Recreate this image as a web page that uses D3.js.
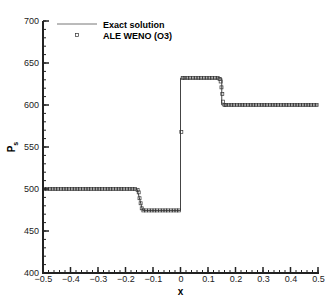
<!DOCTYPE html>
<html>
<head>
<meta charset="utf-8">
<script src="https://cdn.jsdelivr.net/npm/d3@7"></script>
<style>
  body { margin: 0; background: #fff; }
  text { font-family: "Liberation Sans", Arial, sans-serif; }
</style>
</head>
<body>
<div id="vis"></div>
<script>
// exact solution (piecewise)
var exactX = [-0.5, -0.158, -0.138, 0, 0, 0.15, 0.15, 0.5]
var exactP = [500, 500, 474.5, 474.5, 632, 632, 600, 600]

// ALE WENO (O3) cell values
var numX = [-0.495,-0.485,-0.475,-0.465,-0.455,-0.445,-0.435,-0.425,-0.415,-0.405,
  -0.395,-0.385,-0.375,-0.365,-0.355,-0.345,-0.335,-0.325,-0.315,-0.305,
  -0.295,-0.285,-0.275,-0.265,-0.255,-0.245,-0.235,-0.225,-0.215,-0.205,
  -0.195,-0.185,-0.175,-0.165,-0.156,-0.152,-0.149,-0.145,-0.141,-0.135,
  -0.125,-0.115,-0.105,-0.095,-0.085,-0.075,-0.065,-0.055,-0.045,-0.035,
  -0.025,-0.015,-0.005,0.003,0.008,0.015,0.025,0.035,0.045,0.055,
  0.065,0.075,0.085,0.095,0.105,0.115,0.125,0.135,0.142,0.146,
  0.149,0.152,0.155,0.16,0.165,0.175,0.185,0.195,0.205,0.215,
  0.225,0.235,0.245,0.255,0.265,0.275,0.285,0.295,0.305,0.315,
  0.325,0.335,0.345,0.355,0.365,0.375,0.385,0.395,0.405,0.415,
  0.425,0.435,0.445,0.455,0.465,0.475,0.485,0.495]
var numP = [500,500,500,500,500,500,500,500,500,500,
  500,500,500,500,500,500,500,500,500,500,
  500,500,500,500,500,500,500,500,500,500,
  500,500,500,500,499,496,489,483,477,474.5,
  474.5,474.5,474.5,474.5,474.5,474.5,474.5,474.5,474.5,474.5,
  474.5,474.5,474.5,568,632,632,632,632,632,632,
  632,632,632,632,632,632,632,632,631,628,
  621,613,604,600,600,600,600,600,600,600,
  600,600,600,600,600,600,600,600,600,600,
  600,600,600,600,600,600,600,600,600,600,
  600,600,600,600,600,600,600,600]

var xTicks = [-0.5,-0.4,-0.3,-0.2,-0.1,0,0.1,0.2,0.3,0.4,0.5]
var yTicks = [400,450,500,550,600,650,700]

var width = 332, height = 296
var mLeft = 43, mRight = 318, mTop = 21, mBottom = 273

var x = d3.scaleLinear().domain([-0.5, 0.5]).range([mLeft, mRight])
var y = d3.scaleLinear().domain([400, 700]).range([mBottom, mTop])

var svg = d3.select("#vis").append("svg")
  .attr("width", width)
  .attr("height", height)

// exact line
var exact = exactX.map((d,i)=>[d, exactP[i]])
svg.append("path")
  .datum(exact)
  .attr("d", d3.line().x(d=>x(d[0])).y(d=>y(d[1])))
  .style("fill","none")
  .style("stroke","#444")
  .style("stroke-width","1px")

// numerical markers
var num = numX.map((d,i)=>[d, numP[i]])
svg.selectAll("rect.pt")
  .data(num)
  .enter()
  .append("rect")
  .attr("class","pt")
  .attr("x", d=>x(d[0])-1.5)
  .attr("y", d=>y(d[1])-1.5)
  .attr("width",3)
  .attr("height",3)
  .style("fill","none")
  .style("stroke","#333")
  .style("stroke-width","0.7px")

// axes
var xAxis = svg.append("g")
  .attr("transform", `translate(0,${mBottom})`)
  .call(d3.axisBottom(x).tickValues(xTicks).tickSize(0).tickPadding(3)
    .tickFormat(d=> d===0 ? "0" : d3.format(".1f")(d)))
xAxis.select(".domain").remove()
xAxis.selectAll("text").style("font-size","9px").attr("fill","#222")

var yAxis = svg.append("g")
  .attr("transform", `translate(${mLeft},0)`)
  .call(d3.axisLeft(y).tickValues(yTicks).tickSize(0).tickPadding(4))
yAxis.select(".domain").remove()
yAxis.selectAll("text").style("font-size","9px").attr("fill","#222")

// inward ticks
var xMinor = d3.range(-0.5, 0.5001, 0.02)
svg.selectAll("line.xm").data(xMinor).enter().append("line")
  .attr("x1", d=>x(d)).attr("x2", d=>x(d))
  .attr("y1", mBottom).attr("y2", mBottom-3)
  .style("stroke","#222").style("stroke-width","1px")
svg.selectAll("line.xM").data(xTicks).enter().append("line")
  .attr("x1", d=>x(d)).attr("x2", d=>x(d))
  .attr("y1", mBottom).attr("y2", mBottom-6)
  .style("stroke","#222").style("stroke-width","1.5px")

var yMinor = d3.range(400, 700.1, 10)
svg.selectAll("line.ym").data(yMinor).enter().append("line")
  .attr("x1", mLeft).attr("x2", mLeft+3)
  .attr("y1", d=>y(d)).attr("y2", d=>y(d))
  .style("stroke","#222").style("stroke-width","1px")
svg.selectAll("line.yM").data(yTicks).enter().append("line")
  .attr("x1", mLeft).attr("x2", mLeft+6)
  .attr("y1", d=>y(d)).attr("y2", d=>y(d))
  .style("stroke","#222").style("stroke-width","1.5px")

// axis lines
svg.append("line").attr("x1", mLeft).attr("x2", mRight+1).attr("y1", mBottom).attr("y2", mBottom)
  .style("stroke","#222").style("stroke-width","2px")
svg.append("line").attr("x1", mLeft).attr("x2", mLeft).attr("y1", mTop).attr("y2", mBottom+1)
  .style("stroke","#222").style("stroke-width","2px")

// axis titles
svg.append("text")
  .attr("x", x(0)).attr("y", 295)
  .style("text-anchor","middle").style("font-size","10px").style("font-weight","bold")
  .text("x")

var yt = svg.append("text")
  .attr("transform", `translate(15,${y(550)}) rotate(-90)`)
  .style("text-anchor","middle").style("font-size","10px").style("font-weight","bold")
yt.append("tspan").text("P")
yt.append("tspan").attr("dy", 3).style("font-size","7px").text("s")

// legend
svg.append("line").attr("x1",57).attr("x2",97).attr("y1",24).attr("y2",24)
  .style("stroke","#777").style("stroke-width","1px")
svg.append("rect").attr("x",75.5).attr("y",33.5).attr("width",3).attr("height",3)
  .style("fill","none").style("stroke","#333").style("stroke-width","0.7px")
svg.append("text").attr("x",103).attr("y",27.5)
  .style("font-size","9px").style("font-weight","bold").text("Exact solution")
svg.append("text").attr("x",103).attr("y",38.5)
  .style("font-size","9px").style("font-weight","bold").text("ALE WENO (O3)")
</script>
</body>
</html>
